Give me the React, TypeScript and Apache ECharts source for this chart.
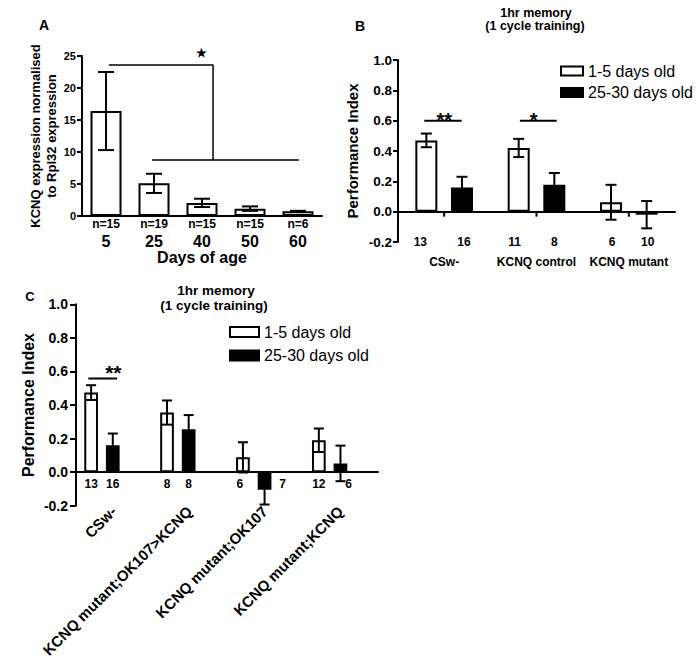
import React, { useEffect, useRef } from 'react';
import * as echarts from 'echarts';

const FONT = '"Liberation Sans", Arial, Helvetica, sans-serif';

// ---------- Panel A data ----------
const ageDays = ['5', '25', '40', '50', '60'];
const kcnqExpr = [16.4, 5.1, 2.05, 1.15, 0.75];
const kcnqErr = [6.1, 1.5, 0.65, 0.35, 0.06];
const kcnqN = [15, 19, 15, 15, 6];

// ---------- Panel B data ----------
const groupsB = ['CSw-', 'KCNQ control', 'KCNQ mutant'];
const youngB = [0.47, 0.42, 0.062];
const youngErrB = [0.045, 0.06, 0.115];
const oldB = [0.16, 0.178, -0.02];
const oldErrB = [0.07, 0.077, 0.09];
const youngNB = [13, 11, 6];
const oldNB = [16, 8, 10];

// ---------- Panel C data ----------
const groupsC = ['CSw-', 'KCNQ mutant;OK107>KCNQ', 'KCNQ mutant;OK107', 'KCNQ mutant;KCNQ'];
const youngC = [0.474, 0.355, 0.088, 0.19];
const youngErrC = [0.044, 0.072, 0.09, 0.07];
const oldC = [0.16, 0.255, -0.105, 0.052];
const oldErrC = [0.07, 0.085, 0.088, 0.106];
const youngNC = [13, 8, 6, 12];
const oldNC = [16, 8, 7, 6];

const seriesNames = ['1-5 days old', '25-30 days old'];

// ---------- annotations (data units) ----------
const sigA_upper = [[0.06, 23.6], [2.23, 23.6], [2.23, 8.75]];
const sigA_lower = [[0.96, 8.75], [4.02, 8.75]];
const sigA_text = [{ x: 1.98, y: 25.5, text: '★', size: 12 }];

const sigB_1 = [[-0.215, 0.6], [0.19, 0.6]];
const sigB_2 = [[0.82, 0.6], [1.22, 0.6]];
const sigB_text = [
  { x: 0.0, y: 0.606, text: '**', size: 20 },
  { x: 0.97, y: 0.606, text: '*', size: 20 },
];

const sigC_1 = [[-0.18, 0.558], [0.2, 0.558]];
const sigC_text = [{ x: 0.15, y: 0.594, text: '**', size: 21 }];

// label nudges (layout only)
const nShiftYoungB = [-6, -4, 1];
const nShiftOldB = [2, 0, 1];
const nShiftYoungC = [0, 0, -3, 0];
const nShiftOldC = [0, 0, 18, 8];

const black = '#000';
const axisLineStyle = { color: black, width: 2 };

function errorSeries(name: string, xAxisIndex: number, yAxisIndex: number, means: number[], errs: number[], dx: number, capW: number) {
  return {
    type: 'custom',
    name,
    xAxisIndex,
    yAxisIndex,
    z: 4,
    silent: true,
    data: means.map((m, i) => [i, m - errs[i], m + errs[i]]),
    encode: { x: 0, y: [1, 2] },
    renderItem: (params: any, api: any) => {
      const i = api.value(0);
      const top = api.coord([i, api.value(2)]);
      const bot = api.coord([i, api.value(1)]);
      const x = top[0] + dx;
      const st = { stroke: black, lineWidth: 2 };
      return {
        type: 'group',
        children: [
          { type: 'line', shape: { x1: x, y1: top[1], x2: x, y2: bot[1] }, style: st },
          { type: 'line', shape: { x1: x - capW / 2, y1: top[1], x2: x + capW / 2, y2: top[1] }, style: st },
          { type: 'line', shape: { x1: x - capW / 2, y1: bot[1], x2: x + capW / 2, y2: bot[1] }, style: st },
        ],
      };
    },
  };
}

// small downward tick marks on the zero line at each category centre
function zeroTickSeries(name: string, xAxisIndex: number, yAxisIndex: number, count: number, len: number) {
  return {
    type: 'custom',
    name,
    xAxisIndex,
    yAxisIndex,
    z: 3,
    silent: true,
    clip: false,
    data: Array.from({ length: count }, (_, i) => [i, 0]),
    encode: { x: 0, y: 1 },
    renderItem: (params: any, api: any) => {
      const p = api.coord([api.value(0), api.value(1)]);
      return {
        type: 'line',
        shape: { x1: p[0], y1: p[1], x2: p[0], y2: p[1] + len },
        style: { stroke: black, lineWidth: 2 },
      };
    },
  };
}

function nSeries(name: string, xAxisIndex: number, yAxisIndex: number, ns: number[], dx: number, yLevel: number, dy: number, fontSize: number, shifts: number[]) {
  return {
    type: 'custom',
    name,
    xAxisIndex,
    yAxisIndex,
    z: 5,
    silent: true,
    clip: false,
    data: ns.map((n, i) => [i, yLevel, n]),
    encode: { x: 0, y: 1 },
    renderItem: (params: any, api: any) => {
      const p = api.coord([api.value(0), api.value(1)]);
      const k = params.dataIndex;
      return {
        type: 'text',
        x: p[0] + dx + (shifts[k] || 0),
        y: p[1] + dy,
        style: {
          text: String(api.value(2)),
          fill: black,
          fontSize,
          fontWeight: 'bold',
          fontFamily: FONT,
          align: 'center',
          verticalAlign: 'middle',
          textAlign: 'center',
          textVerticalAlign: 'middle',
        },
      };
    },
  };
}

function textSeries(name: string, xAxisIndex: number, yAxisIndex: number, items: { x: number; y: number; text: string; size: number }[]) {
  return {
    type: 'custom',
    name,
    xAxisIndex,
    yAxisIndex,
    z: 6,
    silent: true,
    clip: false,
    data: items.map((it) => [it.x, it.y]),
    encode: { x: 0, y: 1 },
    renderItem: (params: any, api: any) => {
      const it = items[params.dataIndex];
      const p = api.coord([api.value(0), api.value(1)]);
      return {
        type: 'text',
        x: p[0],
        y: p[1],
        style: {
          text: it.text,
          fill: black,
          fontSize: it.size,
          fontWeight: 'bold',
          fontFamily: FONT,
          align: 'center',
          verticalAlign: 'middle',
          textAlign: 'center',
          textVerticalAlign: 'middle',
        },
      };
    },
  };
}

function sigLine(data: number[][], xAxisIndex: number, yAxisIndex: number, width: number) {
  return {
    type: 'line',
    xAxisIndex,
    yAxisIndex,
    data,
    symbol: 'none',
    silent: true,
    z: 5,
    lineStyle: { color: black, width },
  };
}

function gText(x: number, y: number, text: string, size: number) {
  return {
    type: 'text',
    x,
    y,
    style: {
      text,
      fill: black,
      fontSize: size,
      fontWeight: 'bold',
      fontFamily: FONT,
      align: 'center',
      verticalAlign: 'middle',
      textAlign: 'center',
      textVerticalAlign: 'middle',
    },
  };
}

const perfYAxisBase = (gridIndex: number, fontSize: number, margin: number, tickLen: number, nameSize: number, nameGap: number) => ({
  type: 'value',
  gridIndex,
  min: -0.2,
  max: 1,
  interval: 0.2,
  axisLine: { show: true, onZero: false, lineStyle: axisLineStyle },
  axisTick: { show: true, length: tickLen, lineStyle: { color: black, width: 2 } },
  axisLabel: {
    margin,
    fontSize,
    fontWeight: 'bold',
    color: black,
    fontFamily: FONT,
    formatter: (v: number) => v.toFixed(1),
  },
  splitLine: { show: false },
  name: 'Performance Index',
  nameLocation: 'middle',
  nameGap,
  nameTextStyle: { fontSize: nameSize, fontWeight: 'bold', color: black, fontFamily: FONT },
});

export default function App() {
  const ref = useRef<HTMLDivElement>(null);

  useEffect(() => {
    if (!ref.current) return;
    const chart = echarts.init(ref.current, undefined, { renderer: 'svg' });

    const bwB = 22, gapB = 0.62;
    const dxB = (bwB + bwB * gapB) / 2;
    const bwC = 13.7, gapC = 0.58;
    const dxC = (bwC + bwC * gapC) / 2;

    const whiteStyle = { color: '#fff', borderColor: black, borderWidth: 2 };
    const blackStyle = { color: black, borderColor: black, borderWidth: 2 };

    const option: any = {
      animation: false,
      backgroundColor: '#fff',
      textStyle: { fontFamily: FONT, color: black },
      grid: [
        { left: 82, top: 56, width: 240, height: 160, containLabel: false, outerBoundsMode: 'none' },
        { left: 398, top: 60, width: 277, height: 182, containLabel: false, outerBoundsMode: 'none' },
        { left: 76, top: 304.3, width: 302, height: 201.4, containLabel: false, outerBoundsMode: 'none' },
        { left: 64, top: 304.3, width: 303.6, height: 201.4, containLabel: false, outerBoundsMode: 'none' },
      ],
      xAxis: [
        {
          type: 'category',
          gridIndex: 0,
          data: ageDays,
          axisLine: { show: true, lineStyle: axisLineStyle },
          axisTick: { show: false },
          axisLabel: {
            interval: 0,
            margin: 1,
            color: black,
            formatter: (v: string, i: number) => `{n|n=${kcnqN[i]}}\n{c|${v}}`,
            rich: {
              n: { fontSize: 12, fontWeight: 'bold', lineHeight: 14, fontFamily: FONT, color: black },
              c: { fontSize: 16, fontWeight: 'bold', lineHeight: 20, fontFamily: FONT, color: black },
            },
          },
          name: 'Days of age',
          nameLocation: 'middle',
          nameGap: 31,
          nameTextStyle: { fontSize: 16, fontWeight: 'bold', color: black, fontFamily: FONT },
        },
        { type: 'value', gridIndex: 0, min: -0.5, max: 4.5, show: false },
        {
          type: 'category',
          gridIndex: 1,
          data: groupsB,
          axisLine: { show: true, onZero: true, lineStyle: axisLineStyle },
          axisTick: { show: false },
          axisLabel: { interval: 0, margin: 14, fontSize: 12, fontWeight: 'bold', color: black, fontFamily: FONT },
        },
        { type: 'value', gridIndex: 1, min: -0.5, max: 2.5, show: false },
        {
          type: 'category',
          gridIndex: 2,
          data: groupsC,
          axisLine: { show: true, onZero: true, lineStyle: axisLineStyle },
          axisTick: { show: false },
          axisLabel: { interval: 0, rotate: 45, margin: 3, fontSize: 15, fontWeight: 'bold', color: black, fontFamily: FONT },
        },
        { type: 'category', gridIndex: 3, data: groupsC, show: false },
        { type: 'value', gridIndex: 3, min: -0.5, max: 3.5, show: false },
      ],
      yAxis: [
        {
          type: 'value',
          gridIndex: 0,
          min: 0,
          max: 25,
          interval: 5,
          axisLine: { show: true, onZero: false, lineStyle: axisLineStyle },
          axisTick: { show: true, length: 5, lineStyle: { color: black, width: 2 } },
          axisLabel: { margin: 6, fontSize: 11, fontWeight: 'bold', color: black, fontFamily: FONT },
          splitLine: { show: false },
          name: 'KCNQ expression normalised\nto Rpl32 expression',
          nameLocation: 'middle',
          nameGap: 21,
          nameTextStyle: { fontSize: 13, fontWeight: 'bold', lineHeight: 16, color: black, fontFamily: FONT },
        },
        perfYAxisBase(1, 13.5, 6, 5, 15, 38),
        perfYAxisBase(2, 14, 8, 6, 16, 40),
        { type: 'value', gridIndex: 3, min: -0.2, max: 1, interval: 0.2, show: false },
      ],
      legend: [
        {
          data: seriesNames,
          orient: 'vertical',
          left: 560,
          top: 63,
          padding: 0,
          itemWidth: 22,
          itemHeight: 9,
          itemGap: 5.5,
          icon: 'rect',
          selectedMode: false,
          textStyle: { fontSize: 16, color: black, fontFamily: FONT },
        },
        {
          data: seriesNames,
          orient: 'vertical',
          left: 229,
          top: 324,
          padding: 0,
          itemWidth: 29,
          itemHeight: 10,
          itemGap: 7.5,
          icon: 'rect',
          selectedMode: false,
          textStyle: { fontSize: 16, color: black, fontFamily: FONT },
        },
      ],
      graphic: [
        gText(44, 25, 'A', 14),
        gText(360, 26, 'B', 14),
        gText(30, 296, 'C', 13),
        gText(536, 13, '1hr memory', 12.5),
        gText(535, 26, '(1 cycle training)', 12.5),
        gText(216, 290, '1hr memory', 13.5),
        gText(214, 305.5, '(1 cycle training)', 13.5),
      ],
      series: [
        // Panel A
        {
          type: 'bar',
          name: 'KCNQ expression',
          xAxisIndex: 0,
          yAxisIndex: 0,
          data: kcnqExpr,
          barWidth: 31,
          itemStyle: whiteStyle,
          z: 2,
        },
        errorSeries('errA', 0, 0, kcnqExpr, kcnqErr, 0, 16),
        sigLine(sigA_upper, 1, 0, 1.5),
        sigLine(sigA_lower, 1, 0, 1.5),
        textSeries('sigTextA', 1, 0, sigA_text),

        // Panel B
        {
          type: 'bar',
          name: seriesNames[0],
          xAxisIndex: 2,
          yAxisIndex: 1,
          data: youngB,
          barWidth: bwB,
          barGap: `${gapB * 100}%`,
          itemStyle: whiteStyle,
          z: 2,
        },
        {
          type: 'bar',
          name: seriesNames[1],
          xAxisIndex: 2,
          yAxisIndex: 1,
          data: oldB,
          barWidth: bwB,
          barGap: `${gapB * 100}%`,
          itemStyle: blackStyle,
          z: 2,
        },
        zeroTickSeries('ticksB', 2, 1, groupsB.length, 5),
        errorSeries('errBy', 2, 1, youngB, youngErrB, -dxB, 11),
        errorSeries('errBo', 2, 1, oldB, oldErrB, dxB, 11),
        nSeries('nBy', 2, 1, youngNB, -dxB, -0.2, 0, 12, nShiftYoungB),
        nSeries('nBo', 2, 1, oldNB, dxB, -0.2, 0, 12, nShiftOldB),
        sigLine(sigB_1, 3, 1, 2),
        sigLine(sigB_2, 3, 1, 2),
        textSeries('sigTextB', 3, 1, sigB_text),

        // Panel C
        {
          type: 'bar',
          name: seriesNames[0],
          xAxisIndex: 5,
          yAxisIndex: 3,
          data: youngC,
          barWidth: bwC,
          barGap: `${gapC * 100}%`,
          itemStyle: whiteStyle,
          z: 2,
        },
        {
          type: 'bar',
          name: seriesNames[1],
          xAxisIndex: 5,
          yAxisIndex: 3,
          data: oldC,
          barWidth: bwC,
          barGap: `${gapC * 100}%`,
          itemStyle: blackStyle,
          z: 2,
        },
        errorSeries('errCy', 5, 3, youngC, youngErrC, -dxC, 10),
        errorSeries('errCo', 5, 3, oldC, oldErrC, dxC, 10),
        nSeries('nCy', 5, 3, youngNC, -dxC, 0, 12, 12, nShiftYoungC),
        nSeries('nCo', 5, 3, oldNC, dxC, 0, 12, 12, nShiftOldC),
        sigLine(sigC_1, 6, 3, 2),
        textSeries('sigTextC', 6, 3, sigC_text),
      ],
    };

    chart.setOption(option);
    return () => chart.dispose();
  }, []);

  return (
    <div
      ref={ref}
      style={{ position: 'absolute', left: 0, top: 0, width: 699, height: 665, background: '#fff' }}
    />
  );
}
